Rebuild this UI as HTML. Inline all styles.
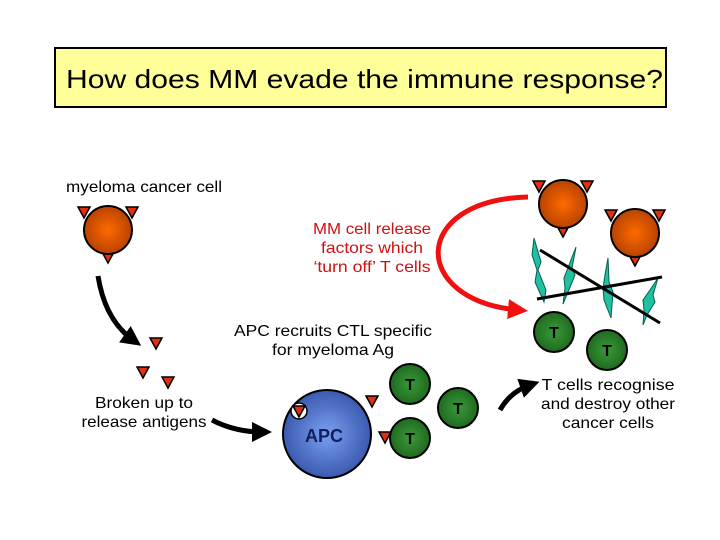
<!DOCTYPE html>
<html><head><style>body{margin:0;background:#fff}svg{display:block}</style></head><body>
<svg width="720" height="540" viewBox="0 0 720 540" xmlns="http://www.w3.org/2000/svg" font-family="Liberation Sans, Arial, sans-serif">
<defs>
<radialGradient id="og" cx="0.5" cy="0.5" r="0.5"><stop offset="0" stop-color="#ff6a00"/><stop offset="1" stop-color="#b84300"/></radialGradient>
<radialGradient id="gg" cx="0.5" cy="0.5" r="0.5"><stop offset="0" stop-color="#3a9a3a"/><stop offset="1" stop-color="#1f6a1f"/></radialGradient>
<radialGradient id="bg" cx="0.5" cy="0.5" r="0.5"><stop offset="0" stop-color="#7aa0f0"/><stop offset="1" stop-color="#3a5ab0"/></radialGradient>
<g id="tri"><polygon points="-6,-5 6,-5 0,6" fill="#e03010" stroke="#000" stroke-width="1.5"/></g>
<g id="cell"><use href="#tri" x="-24" y="-18"/><use href="#tri" x="24" y="-18"/><use href="#tri" x="0" y="27"/><circle r="24" fill="url(#og)" stroke="#000" stroke-width="2"/></g>
<g id="t"><circle r="20" fill="url(#gg)" stroke="#000" stroke-width="2"/><text y="6" text-anchor="middle" font-size="16" font-weight="bold">T</text></g>
<marker id="ab" markerWidth="4" markerHeight="4" refX="2" refY="2" orient="auto"><path d="M0,0 L4,2 L0,4z" fill="#000"/></marker>
<marker id="ar" markerWidth="4" markerHeight="4" refX="2" refY="2" orient="auto"><path d="M0,0 L4,2 L0,4z" fill="#f01010"/></marker>
</defs>
<rect x="55" y="48" width="611" height="59" fill="#ffff99" stroke="#000" stroke-width="2"/>
<text x="66" y="88" font-size="26" textLength="597" lengthAdjust="spacingAndGlyphs">How does MM evade the immune response?</text>
<g font-size="16">
<text x="66" y="192" textLength="156" lengthAdjust="spacingAndGlyphs">myeloma cancer cell</text>
<text text-anchor="middle"><tspan x="144" y="408" textLength="98" lengthAdjust="spacingAndGlyphs">Broken up to</tspan><tspan x="144" y="427" textLength="125" lengthAdjust="spacingAndGlyphs">release antigens</tspan></text>
<text text-anchor="middle" fill="#d01010"><tspan x="372" y="234" textLength="118" lengthAdjust="spacingAndGlyphs">MM cell release</tspan><tspan x="372" y="253" textLength="102" lengthAdjust="spacingAndGlyphs">factors which</tspan><tspan x="372" y="272" textLength="117" lengthAdjust="spacingAndGlyphs">‘turn off’ T cells</tspan></text>
<text text-anchor="middle"><tspan x="608" y="390" textLength="133" lengthAdjust="spacingAndGlyphs">T cells recognise</tspan><tspan x="608" y="409" textLength="134" lengthAdjust="spacingAndGlyphs">and destroy other</tspan><tspan x="608" y="428" textLength="92" lengthAdjust="spacingAndGlyphs">cancer cells</tspan></text>
<text text-anchor="middle"><tspan x="333" y="336" textLength="198" lengthAdjust="spacingAndGlyphs">APC recruits CTL specific</tspan><tspan x="333" y="355" textLength="122" lengthAdjust="spacingAndGlyphs">for myeloma Ag</tspan></text>
</g>
<use href="#cell" x="108" y="230"/>
<use href="#cell" x="563" y="204"/>
<use href="#cell" x="635" y="233"/>
<use href="#tri" x="156" y="343"/><use href="#tri" x="143" y="372"/><use href="#tri" x="168" y="382"/>
<path d="M98,276 Q105,320 133,340" stroke="#000" stroke-width="5" fill="none" marker-end="url(#ab)"/>
<path d="M212,420 Q235,432 262,432" stroke="#000" stroke-width="5" fill="none" marker-end="url(#ab)"/>
<path d="M500,410 Q510,392 530,385" stroke="#000" stroke-width="5" fill="none" marker-end="url(#ab)"/>
<path d="M528,197 C410,200 410,300 518,310" stroke="#f01010" stroke-width="5" fill="none" marker-end="url(#ar)"/>
<g fill="#20c0a0" stroke="#006050" stroke-width="1">
<polygon points="534,238 541,262 538,270 546,290 544,302 535,282 537,270 532,255"/>
<polygon points="576,247 572,268 575,275 568,292 563,304 565,288 564,278 569,265"/>
<polygon points="608,258 609,282 613,292 611,318 604,300 603,288 605,275"/>
<polygon points="658,278 653,295 655,302 647,315 643,325 644,310 643,300 650,290"/>
</g>
<line x1="540" y1="250" x2="660" y2="323" stroke="#000" stroke-width="3"/>
<line x1="537" y1="299" x2="662" y2="277" stroke="#000" stroke-width="3"/>
<use href="#t" x="554" y="332"/>
<use href="#t" x="607" y="350"/>
<circle cx="327" cy="434" r="44" fill="url(#bg)" stroke="#000" stroke-width="2"/>
<circle cx="299" cy="411" r="8" fill="#fff" stroke="#000" stroke-width="1.5"/>
<use href="#tri" x="299" y="411"/>
<text x="324" y="442" text-anchor="middle" font-size="18" font-weight="bold" fill="#102060">APC</text>
<use href="#tri" x="372" y="401"/><use href="#tri" x="385" y="437"/>
<use href="#t" x="410" y="384"/>
<use href="#t" x="458" y="408"/>
<use href="#t" x="410" y="438"/>
</svg>
</body></html>
